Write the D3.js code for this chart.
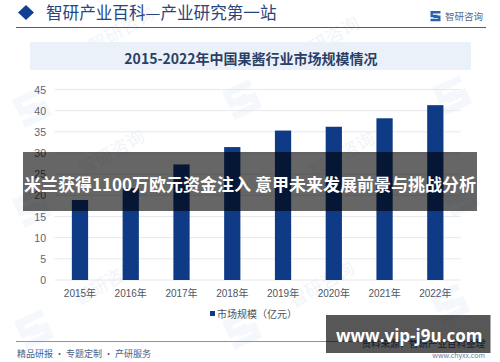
<!DOCTYPE html>
<html>
<head>
<meta charset="utf-8">
<script src="https://cdn.jsdelivr.net/npm/d3@7"></script>
<style>
  html, body { margin: 0; padding: 0; background: #fff; }
  svg { display: block; }
  text { font-family: "Noto Sans CJK SC", "Noto Sans", sans-serif; }
  .tick-label { font-family: "Liberation Sans", "Noto Sans CJK SC", sans-serif; }
</style>
</head>
<body>
<div id="chart"></div>
<script>
const years = ['2015年', '2016年', '2017年', '2018年', '2019年', '2020年', '2021年', '2022年'];
const marketSize = [18.9, 21.7, 27.3, 31.4, 35.3, 36.2, 38.2, 41.3];
const yTicks = [0, 5, 10, 15, 20, 25, 30, 35, 40, 45];

const headerText = '智研产业百科—产业研究第一站';
const brandText = '智研咨询';
const chartTitle = '2015-2022年中国果酱行业市场规模情况';
const legendText = '市场规模（亿元）';
const footerLeft = '精品研报 · 专题定制 · 产研服务';
const sourceText = '资料来源：智研产业百科整理';
const sourceUrl = 'www.chyxx.com';
const overlayTitle = '米兰获得1100万欧元资金注入 意甲未来发展前景与挑战分析';
const overlayUrl = 'www.vip-j9u.com';

const NAVY = '#0f3a86';
const svg = d3.select('#chart').append('svg').attr('width', 500).attr('height', 362);

// Two-piece logo, used for the brand mark and the watermarks
function drawLogo(parent, px, py, s, fill, rotate) {
  const g = parent.append('g')
    .attr('transform', `translate(${px},${py}) rotate(${rotate}) scale(${s})`)
    .attr('fill', 'none').attr('stroke', fill).attr('stroke-width', 2.4);
  g.append('path').attr('d', 'M0,1.2 H10 M1.2,1.2 V5 H7');
  g.append('path').attr('d', 'M0,9 H10 M8.8,9 V5.8 H3');
}

// Faint watermarks behind the chart
const wm = svg.append('g');
const wmLogos = [[12, 100], [222, 92], [432, 88], [14, 322], [222, 322], [430, 296], [440, 190], [12, 200]];
wmLogos.forEach(d => drawLogo(wm, d[0], d[1], 3, '#f4f7fb', -25));
const wmTexts = [[125, 35], [330, 45], [115, 158], [345, 160], [110, 288], [325, 290]];
wm.selectAll('text').data(wmTexts).join('text')
  .attr('transform', d => `translate(${d[0]},${d[1]}) rotate(-30)`)
  .attr('text-anchor', 'middle')
  .attr('font-size', 18)
  .attr('fill', '#f2f4f8')
  .text(brandText);

// Header
svg.append('path').attr('d', 'M18,12.5 L26,5 L34,12.5 L26,20 Z').attr('fill', '#123f8f');
svg.append('text').attr('x', 46).attr('y', 19).attr('font-size', 16.6).attr('fill', '#27457e').text(headerText);
drawLogo(svg, 430.5, 11, 1, '#2b62a8', 0);
svg.append('text').attr('x', 445).attr('y', 20).attr('font-size', 9.5).attr('fill', '#54688c').text(brandText);
svg.append('line').attr('x1', 16).attr('x2', 486).attr('y1', 27.5).attr('y2', 27.5).attr('stroke', '#3d5f96');

// Title band
svg.append('rect').attr('x', 30).attr('y', 42).attr('width', 441).attr('height', 28).attr('fill', '#ebf1f9');
svg.append('text').attr('x', 251).attr('y', 64).attr('text-anchor', 'middle')
  .attr('font-size', 14).attr('font-weight', 700).attr('fill', '#2b3f66').text(chartTitle);

// Chart
const x = d3.scaleBand().domain(years).range([54.6, 460.7]).paddingInner(0.68).paddingOuter(0.34);
const y = d3.scaleLinear().domain([0, 45]).range([280, 89.5]);

svg.append('g').selectAll('line').data(yTicks).join('line')
  .attr('x1', 54.6).attr('x2', 460.7)
  .attr('y1', d => y(d)).attr('y2', d => y(d))
  .attr('stroke', '#e6e8ee').attr('stroke-width', 1);

svg.append('g').selectAll('rect').data(years).join('rect')
  .attr('x', d => x(d))
  .attr('y', (d, i) => y(marketSize[i]))
  .attr('width', x.bandwidth())
  .attr('height', (d, i) => y(0) - y(marketSize[i]))
  .attr('fill', NAVY);

svg.append('g').selectAll('text').data(yTicks).join('text')
  .attr('class', 'tick-label')
  .attr('x', 46).attr('y', d => y(d) + 4)
  .attr('text-anchor', 'end').attr('font-size', 10.5).attr('fill', '#5d6470')
  .text(d => d);

svg.append('g').selectAll('text').data(years).join('text')
  .attr('class', 'tick-label')
  .attr('x', d => x(d) + x.bandwidth() / 2).attr('y', 297)
  .attr('text-anchor', 'middle').attr('font-size', 10).attr('fill', '#4e5561')
  .text(d => d);

// Legend
svg.append('rect').attr('x', 210).attr('y', 311).attr('width', 5).attr('height', 5).attr('fill', NAVY);
svg.append('text').attr('x', 217).attr('y', 317.5).attr('font-size', 10).attr('fill', '#4e5561').text(legendText);

// Footer
svg.append('line').attr('x1', 16).attr('x2', 486).attr('y1', 341.5).attr('y2', 341.5).attr('stroke', '#7f97c0');
svg.append('text').attr('x', 17).attr('y', 357).attr('font-size', 9).attr('fill', '#49608a').text(footerLeft);
svg.append('text').attr('x', 485).attr('y', 347).attr('text-anchor', 'end').attr('font-size', 9.5).attr('fill', '#3f557f').text(sourceText);
svg.append('text').attr('x', 485).attr('y', 358).attr('text-anchor', 'end').attr('font-size', 7).attr('fill', '#5f7ca8').text(sourceUrl);

// Overlays added on top of the picture
svg.append('rect').attr('x', 23).attr('y', 152).attr('width', 454).attr('height', 59).attr('fill', 'rgba(0,0,0,0.6)');
svg.append('text').attr('x', 250).attr('y', 191).attr('text-anchor', 'middle')
  .attr('font-size', 17).attr('font-weight', 700).attr('fill', '#fff').text(overlayTitle);

svg.append('rect').attr('x', 326).attr('y', 315).attr('width', 164.5).attr('height', 38).attr('fill', 'rgba(0,0,0,0.66)');
svg.append('text').attr('x', 336).attr('y', 342)
  .style('font-family', '"Open Sans", sans-serif')
  .attr('font-size', 17).attr('font-weight', 700).attr('fill', '#fff').text(overlayUrl);
</script>
</body>
</html>
